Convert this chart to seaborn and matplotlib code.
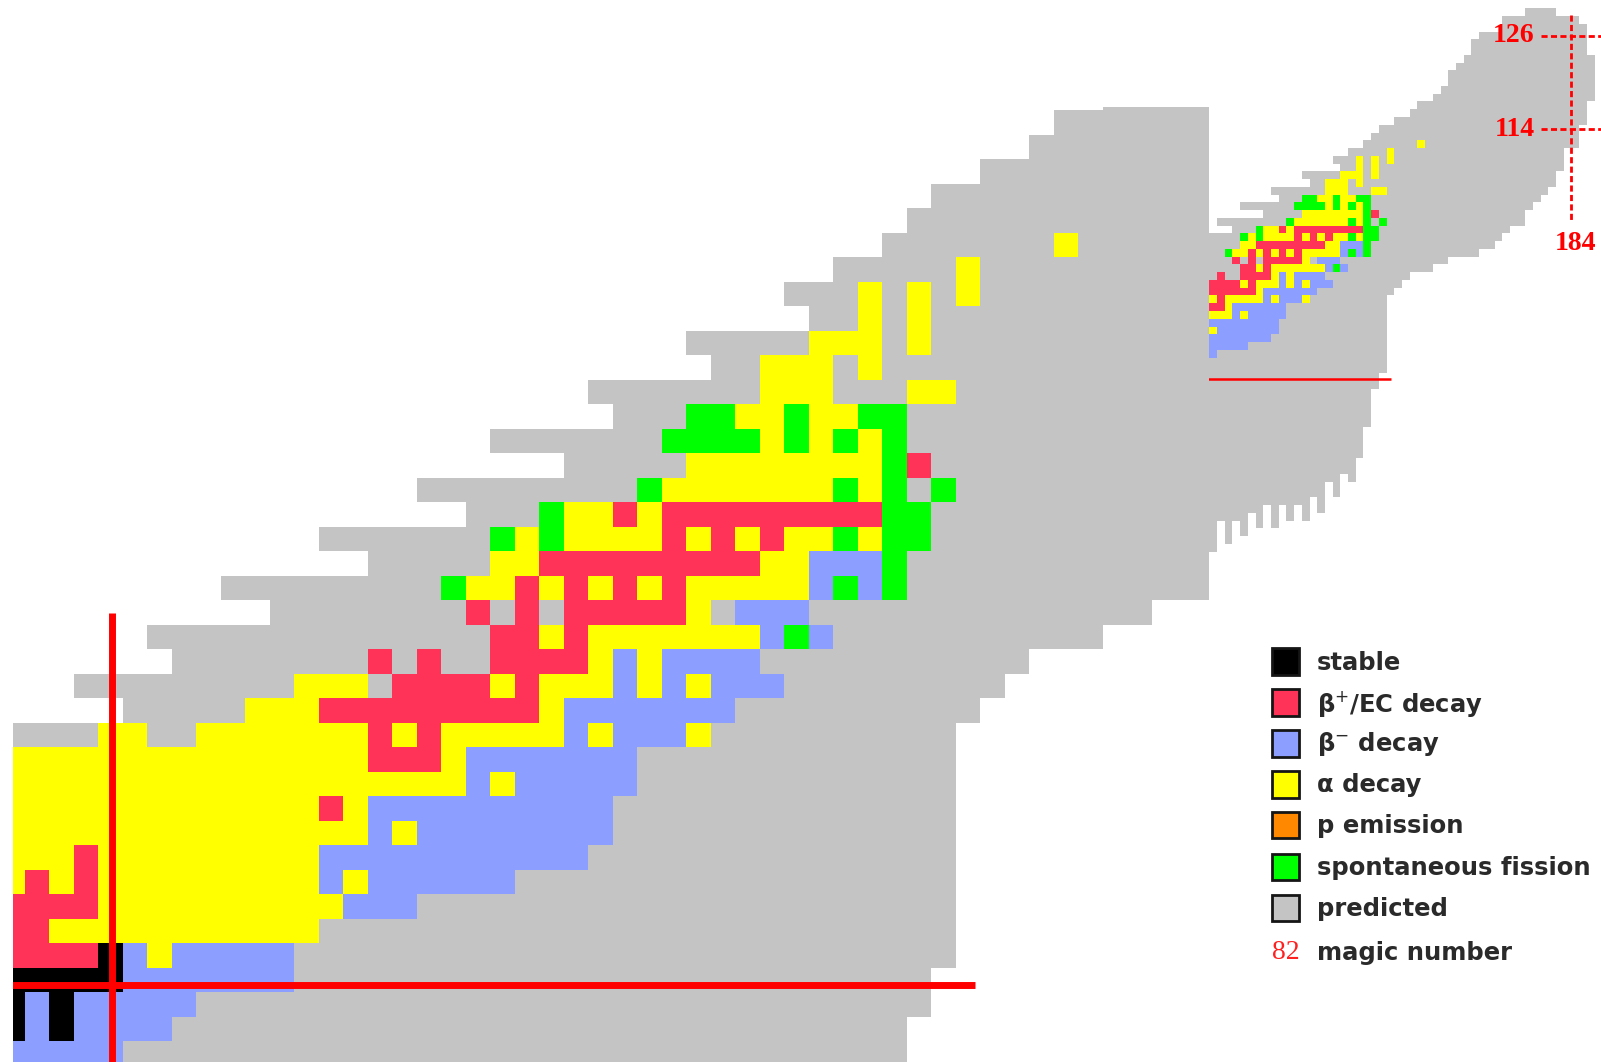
import numpy as np
import matplotlib
matplotlib.use('Agg')
import matplotlib.pyplot as plt
from matplotlib.colors import ListedColormap
from matplotlib.patches import Rectangle
import seaborn as sns

# codes used in the grid
codes = {'w': 0, 'k': 1, 'r': 2, 'b': 3, 'y': 4, 'o': 5, 'g': 6, 'p': 7}
colors = ['#ffffff', '#000000', '#ff3358', '#8c9eff', '#ffff00', '#ff8800', '#00ff00', '#c4c4c4']

# first and last predicted column per row, rows start at -8
first_row = -8
row_first = [57, 54, 54, 51, 50, 50, 49, 48, 47, 47, 46, 45, 43, 42, 40, 38, 37, 36, 34, 32, 33,
             28, 29, 24, 25, 20, 23, 17, 19, 13, 15, 9, 11, 6, 7, 3, 5]
row_last = [60, 63, 64, 64, 64, 64, 65, 65, 65, 65, 65, 65, 64, 64, 64, 63, 63, 63, 61, 61, 61,
            60, 60, 59, 58, 57, 56, 56, 54, 53, 52, 50, 46, 44, 41, 40, 39,
            38, 38, 38, 38, 38, 38, 38, 38, 38, 38, 37, 37, 36, 36, 36, 36, 36,
            35, 35, 35, 35, 34, 34, 34, 34, 34, 34, 34, 34, 34, 34, 34, 34]

# lowest row of the teeth at the bottom of the chart
bottom_cols = [16, 17, 18, 19, 20, 21, 22, 23, 24, 25, 26, 27, 28, 29, 30, 31, 32, 33, 34]
bottom_rows = [61, 57, 60, 57, 59, 56, 58, 55, 58, 55, 57, 55, 57, 54, 56, 52, 54, 51, 52]

# measured decay modes, row: runs of mode + columns
decay_rows = {
    9: 'y43',
    10: 'y39',
    11: 'y35 y37 y39',
    12: 'y35 y37',
    13: 'y33-35 y37',
    14: 'y31-33 y35',
    15: 'y31-33 y37-38',
    16: 'g28-29 y30-31 g32 y33-34 g35-36',
    17: 'g27-30 y31 g32 y33 g34 y35 g36',
    18: 'y28-35 g36 r37',
    19: 'g26 y27-33 g34 y35 g36 g38',
    20: 'g22 y23-24 r25 y26 r27-35 g36-37',
    21: 'g20 y21 g22 y23-26 r27 y28 r29 y30 r31 y32-33 g34 y35 g36-37',
    22: 'y20-21 r22-30 y31-32 b33-35 g36',
    23: 'g18 y19-20 r21 y22 r23 y24 r25 y26 r27 y28-32 b33 g34 b35 g36',
    24: 'r19 r21 r23-27 y28 b30-32',
    25: 'r20-21 y22 r23 y24-30 b31 g32 b33',
    26: 'r15 r17 r20-23 y24 b25 y26 b27-30',
    27: 'y12-14 r16-19 y20 r21 y22-24 b25 y26 b27 y28 b29-31',
    28: 'y10-12 r13-21 y22 b23-29',
    29: 'y4-5 y8-14 r15 y16 r17 y18-22 b23 y24 b25-27 y28',
    30: 'y0-14 r15-17 y18 b19-25',
    31: 'y0-18 b19 y20 b21-25',
    32: 'y0-12 r13 y14 b15-24',
    33: 'y0-14 b15 y16 b17-24',
    34: 'y0-2 r3 y4-12 b13-23',
    35: 'y0 r1 y2 r3 y4-12 b13 y14 b15-20',
    36: 'r0-3 y4-13 b14-16',
    37: 'r0-1 y2-12',
    38: 'r0-3 k4 b5 y6 b7-11',
    39: 'k0-4 b5-11',
    40: 'k0 b1 k2 b3-7',
    41: 'k0 b1 k2 b3-6',
    42: 'b0-4',
}

legend_labels = ['stable', r'β$^{+}$/EC decay', r'β$^{-}$ decay', 'α decay', 'p emission',
                 'spontaneous fission', 'predicted']
legend_colors = ['#000000', '#ff3358', '#8c9eff', '#ffff00', '#ff8800', '#00ff00', '#c4c4c4']
magic_rows = {126: -4.5, 114: 7.6}
magic_col = 62.97

# build the grid
n_rows, n_cols = len(row_last), 68
grid = np.zeros((n_rows, n_cols), dtype=int)
for i in range(n_rows):
    start = row_first[i] if i < len(row_first) else 0
    grid[i, start:row_last[i] + 1] = codes['p']
for c, b in zip(bottom_cols, bottom_rows):
    grid[b - first_row + 1:, c] = 0
for r, runs in decay_rows.items():
    for run in runs.split():
        parts = run[1:].split('-')
        grid[r - first_row, int(parts[0]):int(parts[-1]) + 1] = codes[run[0]]

cmap = ListedColormap(colors)
W, H = 1601, 1062
S = W / 1568


def px_axes(x0, y0, x1, y1):
    # preview pixels to figure fractions
    return fig.add_axes([x0 * S / W, 1 - y1 * S / H, (x1 - x0) * S / W, (y1 - y0) * S / H])


fig = plt.figure(figsize=(W / 100, H / 100), dpi=100)

# main zoomed panel, cells are 24 preview pixels
ax = px_axes(13, 105, 1184, 1040)
sns.heatmap(grid, cmap=cmap, vmin=-0.5, vmax=7.5, cbar=False, xticklabels=False, yticklabels=False, ax=ax)
ax.set_xlim(13 / 24, 1184 / 24)
ax.set_ylim((1040 - 12) / 24 - first_row, (105 - 12) / 24 - first_row)
ax.axis('off')
ax.hlines(39.7 - first_row, 0, 39.8, color='#ff0000', lw=5)
ax.vlines(4.58, 24.5 - first_row, 43 - first_row, color='#ff0000', lw=5)

# small panel with the whole chart
cx = 7.55
ry = 7.6
ax2 = px_axes(1184, 0, 1568, 560)
sns.heatmap(grid, cmap=cmap, vmin=-0.5, vmax=7.5, cbar=False, xticklabels=False, yticklabels=False, ax=ax2)
ax2.set_xlim(37.5 + (1184 - 1346.7) / cx, 37.5 + (1568 - 1346.7) / cx)
ax2.set_ylim(18.5 + (560 - 209.6) / ry - first_row, 18.5 - 209.6 / ry - first_row)
ax2.axis('off')
ax2.hlines(39.7 - first_row, 0, 39.6, color='#ff0000', lw=1.8)
ax2.vlines(magic_col, -7.2 - first_row, 19.4 - first_row, color='#ff0000', lw=2, linestyles=(0, (2.2, 1.2)))
for z, row in magic_rows.items():
    ax2.hlines(row - first_row, magic_col - 4, 68, color='#ff0000', lw=2, linestyles=(0, (2.2, 1.2)))
    ax2.text(magic_col - 4.8, row - first_row, str(z), color='#ff0000', family='Liberation Serif',
             fontsize=20, weight='bold', ha='right', va='center')
ax2.text(magic_col + 0.5, 20.7 - first_row, '184', color='#ff0000', family='Liberation Serif',
         fontsize=20, weight='bold', ha='center', va='top')

# legend drawn in pixel coordinates
lax = fig.add_axes([0, 0, 1, 1])
lax.set_xlim(0, 1568)
lax.set_ylim(1040, 0)
lax.axis('off')
legend_y = [648, 688, 728, 768, 808, 849, 889]
for y, lab, col in zip(legend_y, legend_labels, legend_colors):
    lax.add_patch(Rectangle((1246, y - 13), 26, 26, facecolor=col, edgecolor='#151515', lw=2))
    lax.text(1290, y + 1, lab, fontsize=17.5, weight='bold', color='#2a2a2a', family='DejaVu Sans', va='center')
lax.text(1259, 933, '82', fontsize=20, color='#ff2020', family='Liberation Serif', va='center', ha='center')
lax.text(1290, 933, 'magic number', fontsize=17.5, weight='bold', color='#2a2a2a', family='DejaVu Sans', va='center')

plt.savefig('out.png', dpi=100)
